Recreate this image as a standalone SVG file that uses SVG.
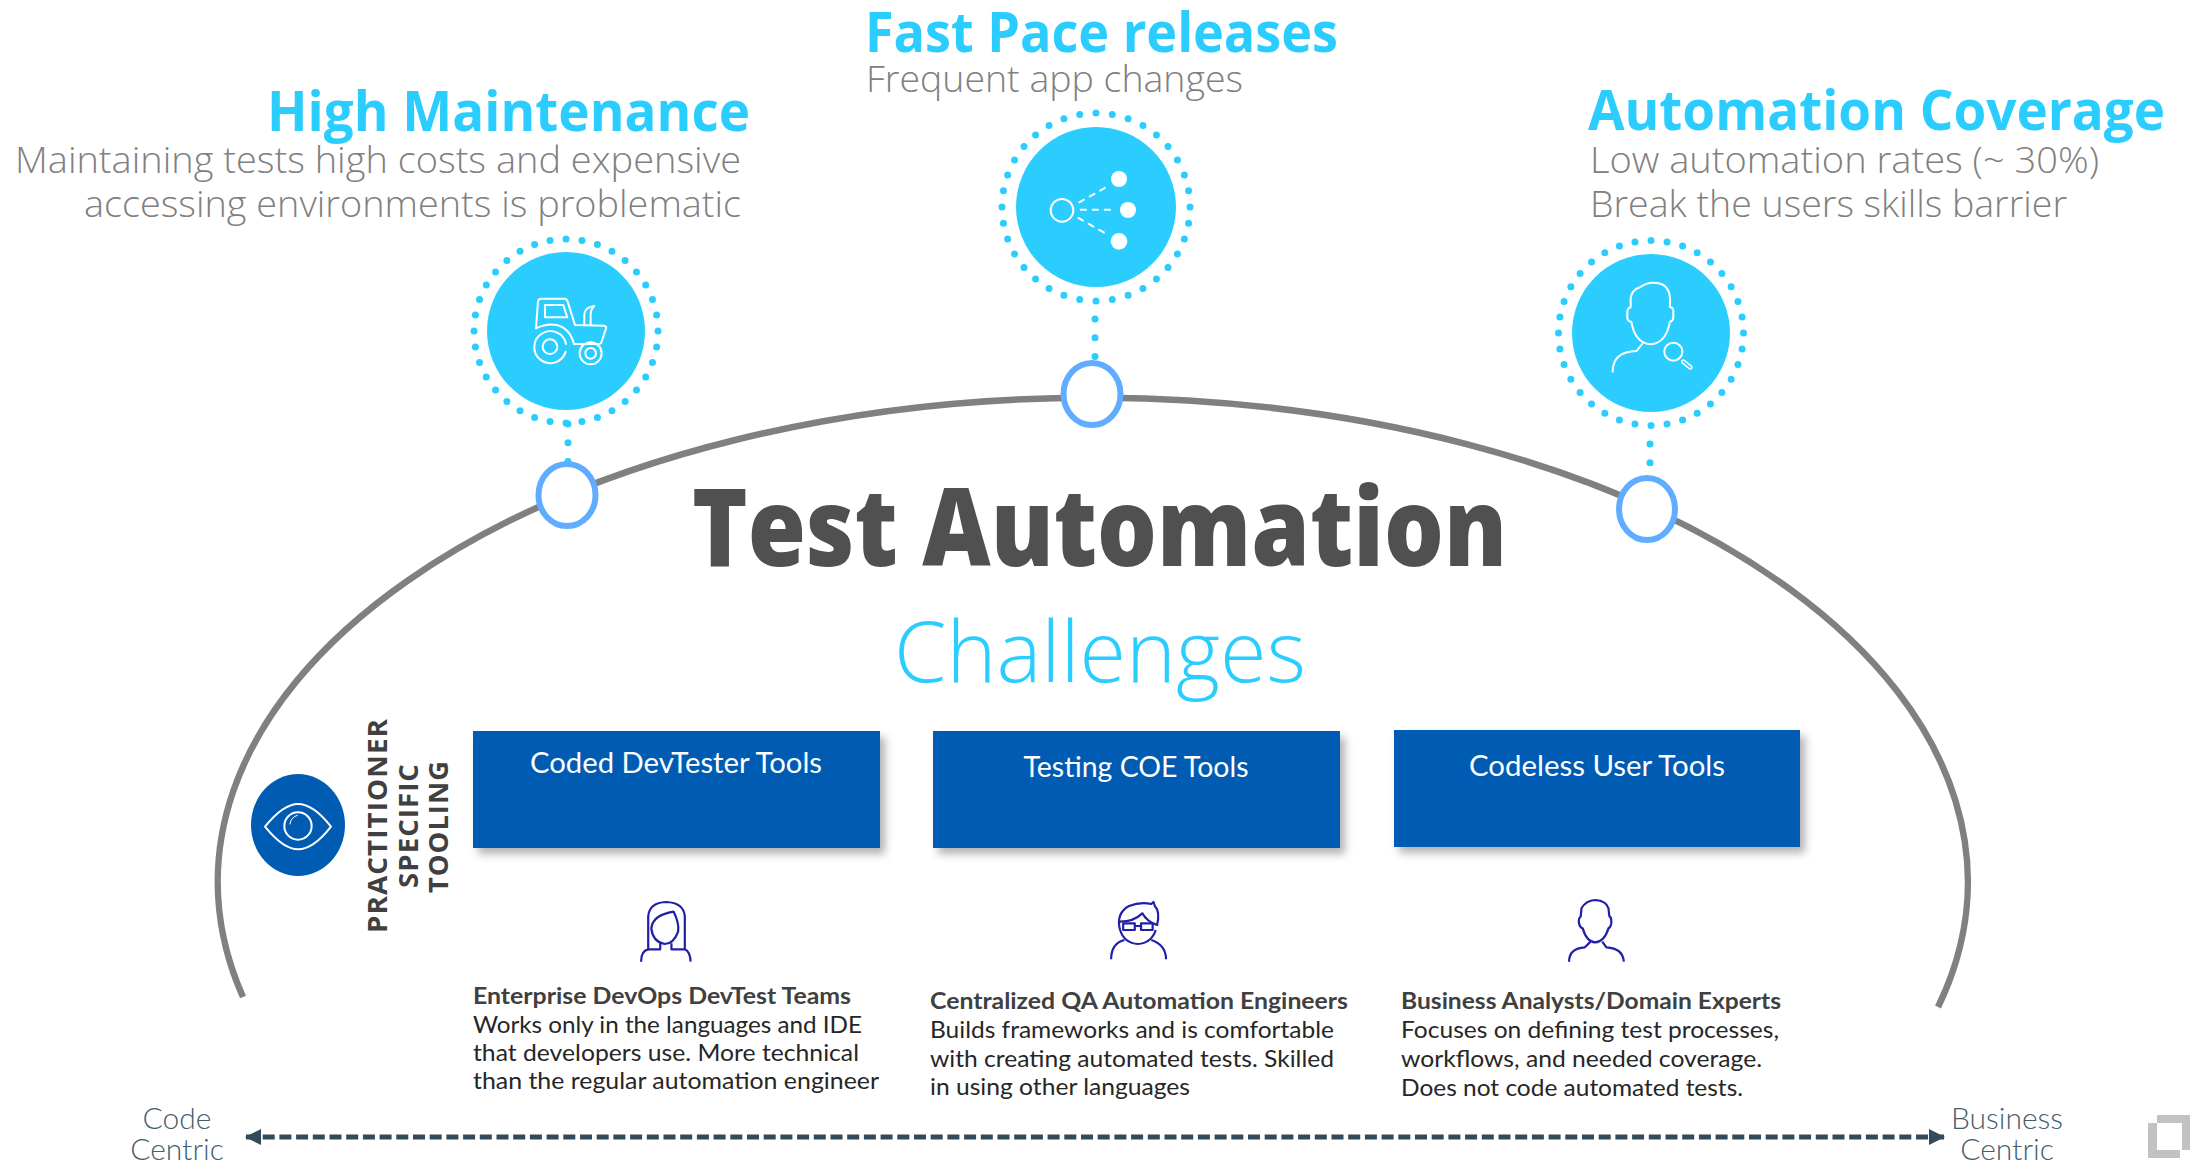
<svg xmlns="http://www.w3.org/2000/svg" width="2190" height="1163" viewBox="0 0 2190 1163">
<style>
text{font-family:"Open Sans","Liberation Sans",sans-serif}
.h{font-size:56px;font-weight:700;fill:#2bcdff}
.s{font-size:37px;font-weight:300;fill:#808080}
.b{fill:#2bcdff}
.ring{fill:none;stroke:#2bcdff;stroke-width:7;stroke-linecap:round;stroke-dasharray:0 1}
.dot{fill:none;stroke:#2bcdff;stroke-width:7;stroke-linecap:round;stroke-dasharray:0 18.7}
.pin{fill:#fff;stroke:#60adff;stroke-width:6}
.w{fill:none;stroke:#fff;stroke-width:6;stroke-linecap:round;stroke-linejoin:round}
.box{fill:#005cb3;filter:url(#sh)}
.bt{font-family:Lato,"Open Sans",sans-serif;font-size:29px;fill:#fff;text-anchor:middle}
.v{font-size:26px;font-weight:700;fill:#404040;letter-spacing:1px}
.p{fill:none;stroke:#1f1fa8;vector-effect:non-scaling-stroke;stroke-width:2.2;stroke-linejoin:round}
.t1{font-family:Lato,"Open Sans",sans-serif;font-size:23.5px;font-weight:700;fill:#404040}
.t2{font-family:Lato,"Open Sans",sans-serif;font-size:23.5px;font-weight:400;fill:#262626}
.e{font-family:Lato,"Open Sans",sans-serif;font-size:30px;font-weight:300;fill:#44606f;text-anchor:middle}
</style>
<defs>
<filter id="sh" x="-5%" y="-10%" width="115%" height="130%"><feDropShadow dx="5" dy="6" stdDeviation="4" flood-color="#000" flood-opacity=".3"/></filter>
<marker id="ah" markerUnits="userSpaceOnUse" markerWidth="16" markerHeight="16" refX="15" refY="8" orient="auto-start-reverse"><path d="M0 0L16 8L0 16Z" fill="#314b5a"/></marker>
</defs>
<g id="connectors">
<path id="arc" d="M243 997A875 484 0 1 1 1938 1007" fill="none" stroke="#808080" stroke-width="6.5"/>
<path class="dot" d="M568 424V462"/>
<path class="dot" d="M1095 319V357"/>
<path class="dot" d="M1650 444V463"/>
<path id="scale" d="M246 1137H1944" fill="none" stroke="#314b5a" stroke-width="5" stroke-dasharray="12 4.7" marker-start="url(#ah)" marker-end="url(#ah)"/>
</g>
<g id="high-maintenance">
<text class="h" x="267" y="131" textLength="483" lengthAdjust="spacingAndGlyphs">High Maintenance</text>
<text class="s" x="15" y="173" textLength="726" lengthAdjust="spacingAndGlyphs">Maintaining tests high costs and expensive</text>
<text class="s" x="84" y="217" textLength="657" lengthAdjust="spacingAndGlyphs">accessing environments is problematic</text>
<circle class="ring" cx="566" cy="331" r="92" pathLength="36"/>
<circle class="b" cx="566" cy="331" r="79"/>
<g transform="translate(400 200) scale(.3333)">
<path class="w" d="M408 385L414 305Q415 296 424 296L495 296Q500 296 503 305L525 375L612 377Q620 378 618 386L605 425Q603 432 596 432L522 432"/>
<path class="w" d="M435 315L490 315L502 352L435 352Z"/>
<path class="w" d="M408 385Q440 370 470 375Q510 385 522 432"/>
<path class="w" d="M497 455A48 48 0 1 1 498 432"/>
<circle class="w" cx="450" cy="440" r="22"/>
<circle class="w" cx="572" cy="460" r="33"/>
<circle class="w" cx="572" cy="460" r="16"/>
<path class="w" d="M553 375V345Q553 322 583 318Q570 330 572 350V375"/>
</g>
<ellipse class="pin" cx="567" cy="495" rx="28.5" ry="31"/>
</g>
<g id="fast-pace">
<text class="h" x="865" y="52" textLength="473" lengthAdjust="spacingAndGlyphs">Fast Pace releases</text>
<text class="s" x="866" y="92" textLength="377" lengthAdjust="spacingAndGlyphs">Frequent app changes</text>
<circle class="ring" cx="1096" cy="207" r="94" pathLength="36"/>
<circle class="b" cx="1096" cy="207" r="80"/>
<g transform="translate(960 90) scale(.3333)">
<circle class="w" cx="306" cy="361" r="34"/>
<circle cx="477" cy="267" r="24" fill="#fff"/>
<circle cx="504" cy="360" r="24" fill="#fff"/>
<circle cx="477" cy="454" r="25" fill="#fff"/>
<path class="w" stroke-dasharray="16 20" d="M358 337L445 288M362 359L470 359M355 384L445 435"/>
</g>
<ellipse class="pin" cx="1092" cy="394" rx="28.5" ry="31"/>
</g>
<g id="automation-coverage">
<text class="h" x="1588" y="130" textLength="577" lengthAdjust="spacingAndGlyphs">Automation Coverage</text>
<text class="s" x="1590" y="173" textLength="509" lengthAdjust="spacingAndGlyphs">Low automation rates (~ 30%)</text>
<text class="s" x="1590" y="217" textLength="477" lengthAdjust="spacingAndGlyphs">Break the users skills barrier</text>
<circle class="ring" cx="1651" cy="333" r="92.5" pathLength="36"/>
<circle class="b" cx="1651" cy="333" r="79"/>
<g transform="translate(1520 210) scale(.3333)">
<path class="w" d="M360 232Q335 240 332 265L332 292Q322 295 322 305L322 325Q324 335 334 335Q345 400 392 403Q438 400 450 335Q460 333 460 322L460 300Q458 292 450 292L450 265Q448 218 400 218Q378 218 360 232Z"/>
<path class="w" d="M278 485Q278 425 350 423L366 402"/>
<circle class="w" cx="460" cy="425" r="27"/>
<path d="M490 455L511 472" fill="none" stroke="#fff" stroke-width="14" stroke-linecap="round"/>
<path d="M490 455L511 472" fill="none" stroke="#2bcdff" stroke-width="5" stroke-linecap="round"/>
</g>
<ellipse class="pin" cx="1647" cy="509" rx="28" ry="31"/>
</g>
<g id="title">
<text x="692" y="566" font-size="108" font-weight="800" fill="#505050" textLength="815" lengthAdjust="spacingAndGlyphs">Test Automation</text>
<text x="894" y="682" font-size="84" font-weight="300" fill="#2bcdff" textLength="412" lengthAdjust="spacingAndGlyphs">Challenges</text>
</g>
<g id="practitioner">
<ellipse cx="298" cy="825" rx="47" ry="51" fill="#005cb3"/>
<g transform="translate(230 700) scale(.3333)" class="w">
<path d="M105 380Q160 312 204 312Q250 312 303 380Q250 448 204 448Q160 448 105 380Z"/>
<circle cx="204" cy="378" r="41"/>
<path d="M180 372Q182 352 202 346" stroke-width="3"/>
</g>
<text class="v" transform="translate(387 933) rotate(-90)" textLength="215" lengthAdjust="spacingAndGlyphs">PRACTITIONER</text>
<text class="v" transform="translate(418 888) rotate(-90)" textLength="125" lengthAdjust="spacingAndGlyphs">SPECIFIC</text>
<text class="v" transform="translate(448 893) rotate(-90)" textLength="133" lengthAdjust="spacingAndGlyphs">TOOLING</text>
</g>
<g id="coded">
<rect class="box" x="473" y="731" width="407" height="117"/>
<text class="bt" x="676" y="773" textLength="292" lengthAdjust="spacingAndGlyphs">Coded DevTester Tools</text>
<g transform="translate(600 880) scale(.4464 .3333)">
<path class="p" d="M92 245Q92 212 108 208L108 110Q110 68 148 66Q188 68 190 110L190 208Q202 215 203 245"/>
<path class="p" d="M115 145Q118 105 165 95Q178 130 175 155Q165 192 145 192Q118 185 115 145Z"/>
<path class="p" d="M108 208L135 208L135 188M160 190L160 208L190 208"/>
</g>
<text class="t1" x="473" y="1004" textLength="378" lengthAdjust="spacingAndGlyphs">Enterprise DevOps DevTest Teams</text>
<text class="t2" x="473" y="1033" textLength="389" lengthAdjust="spacingAndGlyphs">Works only in the languages and IDE</text>
<text class="t2" x="473" y="1061" textLength="386" lengthAdjust="spacingAndGlyphs">that developers use. More technical</text>
<text class="t2" x="473" y="1089" textLength="406" lengthAdjust="spacingAndGlyphs">than the regular automation engineer</text>
</g>
<g id="coe">
<rect class="box" x="933" y="731" width="407" height="117"/>
<text class="bt" x="1136" y="777" textLength="225" lengthAdjust="spacingAndGlyphs">Testing COE Tools</text>
<g transform="translate(600 880) scale(.4464 .3333)">
<path class="p" d="M1165 150Q1175 190 1205 192Q1235 190 1245 150"/>
<path class="p" d="M1165 150Q1155 100 1185 78Q1210 65 1235 72L1240 66L1243 78Q1255 95 1248 135Q1225 125 1215 100Q1195 125 1165 125"/>
<path class="p" d="M1172 130H1198V150H1172ZM1212 130H1238V150H1212ZM1198 138H1212"/>
<path class="p" d="M1145 238Q1145 190 1175 180M1235 180Q1268 195 1268 238"/>
</g>
<text class="t1" x="930" y="1009" textLength="418" lengthAdjust="spacingAndGlyphs">Centralized QA Automation Engineers</text>
<text class="t2" x="930" y="1038" textLength="404" lengthAdjust="spacingAndGlyphs">Builds frameworks and is comfortable</text>
<text class="t2" x="930" y="1067" textLength="404" lengthAdjust="spacingAndGlyphs">with creating automated tests. Skilled</text>
<text class="t2" x="930" y="1095" textLength="260" lengthAdjust="spacingAndGlyphs">in using other languages</text>
</g>
<g id="codeless">
<rect class="box" x="1394" y="730" width="406" height="117"/>
<text class="bt" x="1597" y="776" textLength="256" lengthAdjust="spacingAndGlyphs">Codeless User Tools</text>
<g transform="translate(1540 880) scale(.415 .3333)">
<path class="p" d="M133 60Q110 62 100 85L98 110Q92 115 94 130Q96 143 103 145Q112 185 133 187Q155 185 165 145Q172 140 172 125Q172 112 167 108L165 85Q160 62 133 60Z"/>
<path class="p" d="M70 245Q70 205 108 202L122 185M150 185L160 202Q200 205 202 245"/>
</g>
<text class="t1" x="1401" y="1009" textLength="380" lengthAdjust="spacingAndGlyphs">Business Analysts/Domain Experts</text>
<text class="t2" x="1401" y="1038" textLength="378" lengthAdjust="spacingAndGlyphs">Focuses on defining test processes,</text>
<text class="t2" x="1401" y="1067" textLength="361" lengthAdjust="spacingAndGlyphs">workflows, and needed coverage.</text>
<text class="t2" x="1401" y="1096" textLength="342" lengthAdjust="spacingAndGlyphs">Does not code automated tests.</text>
</g>
<g id="code-centric">
<text class="e" x="177" y="1129">Code</text>
<text class="e" x="177" y="1160">Centric</text>
</g>
<g id="business-centric">
<text class="e" x="2007" y="1129">Business</text>
<text class="e" x="2007" y="1160">Centric</text>
</g>
<path id="logo" d="M2157 1115H2190V1123H2157V1150H2182V1123H2190V1150H2180V1158H2148V1123H2157Z" fill="#c2c2c2" fill-rule="evenodd"/>
</svg>
